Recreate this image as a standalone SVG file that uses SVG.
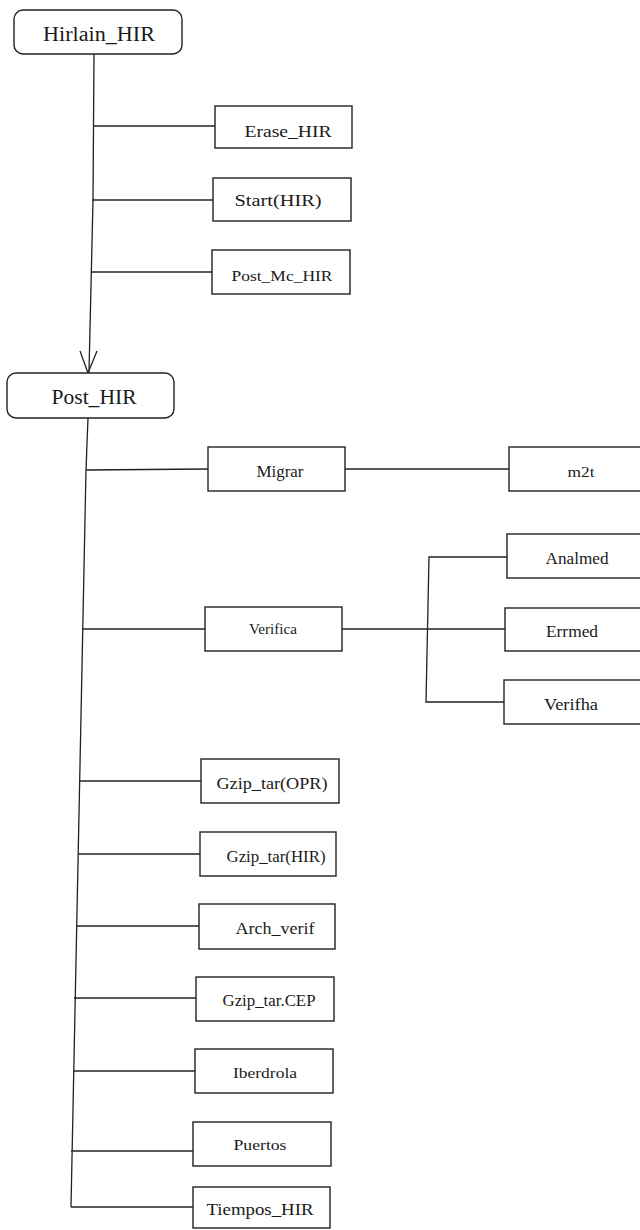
<svg xmlns="http://www.w3.org/2000/svg" width="640" height="1230" viewBox="0 0 640 1230">
<style>
.bg{fill:#fff}
.box{fill:#fff;stroke:#222;stroke-width:1.4}
.lbl{font-family:"Liberation Serif",serif;fill:#1a1a1a;text-anchor:middle}
.big{font-size:20px}
.mid{font-size:16px}
.sm{font-size:14px}
.ln{fill:none;stroke:#222;stroke-width:1.3}
</style>
<rect class="bg" x="0" y="0" width="640" height="1230"/>
<g id="connectors">
<polyline class="ln" points="94,54 93,200 89,372"/>
<polyline class="ln" points="80,351 88,373 97,351"/>
<line class="ln" x1="93" y1="126" x2="215" y2="126"/>
<line class="ln" x1="92" y1="200" x2="213" y2="200"/>
<line class="ln" x1="91" y1="272" x2="212" y2="272"/>
<polyline class="ln" points="88,418 86,470 71,1207"/>
<line class="ln" x1="86" y1="470" x2="208" y2="469"/>
<line class="ln" x1="345" y1="469" x2="509" y2="469"/>
<line class="ln" x1="82" y1="629" x2="205" y2="629"/>
<line class="ln" x1="342" y1="629" x2="505" y2="629"/>
<polyline class="ln" points="507,557 429,557 426,702 504,702"/>
<line class="ln" x1="79" y1="781" x2="201" y2="781"/>
<line class="ln" x1="78" y1="854" x2="200" y2="854"/>
<line class="ln" x1="77" y1="926" x2="199" y2="926"/>
<line class="ln" x1="74" y1="998" x2="196" y2="998"/>
<line class="ln" x1="73" y1="1071" x2="195" y2="1071"/>
<line class="ln" x1="71" y1="1151" x2="193" y2="1151"/>
<line class="ln" x1="71" y1="1207" x2="193" y2="1207"/>
</g>
<g id="n-hirlain"><rect class="box" x="14" y="10" width="168" height="44" rx="9"/><text class="lbl big" x="99" y="41" textLength="112" lengthAdjust="spacingAndGlyphs">Hirlain_HIR</text></g>
<g id="n-erase"><rect class="box" x="215" y="106" width="137" height="42"/><text class="lbl mid" x="288" y="137" textLength="87" lengthAdjust="spacingAndGlyphs">Erase_HIR</text></g>
<g id="n-start"><rect class="box" x="213" y="178" width="138" height="43"/><text class="lbl mid" x="278" y="206" textLength="87" lengthAdjust="spacingAndGlyphs">Start(HIR)</text></g>
<g id="n-postmc"><rect class="box" x="212" y="250" width="138" height="44"/><text class="lbl sm" x="282" y="281" textLength="101" lengthAdjust="spacingAndGlyphs">Post_Mc_HIR</text></g>
<g id="n-post"><rect class="box" x="7" y="373" width="167" height="45" rx="9"/><text class="lbl big" x="94" y="404" textLength="85" lengthAdjust="spacingAndGlyphs">Post_HIR</text></g>
<g id="n-migrar"><rect class="box" x="208" y="447" width="137" height="44"/><text class="lbl mid" x="280" y="477" textLength="47" lengthAdjust="spacingAndGlyphs">Migrar</text></g>
<g id="n-m2t"><rect class="box" x="509" y="447" width="140" height="44"/><text class="lbl sm" x="581" y="477" textLength="27" lengthAdjust="spacingAndGlyphs">m2t</text></g>
<g id="n-verifica"><rect class="box" x="205" y="607" width="137" height="44"/><text class="lbl sm" x="273" y="634" textLength="48" lengthAdjust="spacingAndGlyphs">Verifica</text></g>
<g id="n-analmed"><rect class="box" x="507" y="534" width="140" height="44"/><text class="lbl mid" x="577" y="564" textLength="63" lengthAdjust="spacingAndGlyphs">Analmed</text></g>
<g id="n-errmed"><rect class="box" x="505" y="608" width="142" height="43"/><text class="lbl mid" x="572" y="637" textLength="52" lengthAdjust="spacingAndGlyphs">Errmed</text></g>
<g id="n-verifha"><rect class="box" x="504" y="680" width="143" height="44"/><text class="lbl mid" x="571" y="710" textLength="54" lengthAdjust="spacingAndGlyphs">Verifha</text></g>
<g id="n-gzipopr"><rect class="box" x="201" y="759" width="138" height="44"/><text class="lbl mid" x="272" y="789" textLength="111" lengthAdjust="spacingAndGlyphs">Gzip_tar(OPR)</text></g>
<g id="n-gziphir"><rect class="box" x="200" y="832" width="136" height="44"/><text class="lbl mid" x="276" y="862" textLength="99" lengthAdjust="spacingAndGlyphs">Gzip_tar(HIR)</text></g>
<g id="n-arch"><rect class="box" x="199" y="904" width="136" height="45"/><text class="lbl mid" x="275" y="934" textLength="79" lengthAdjust="spacingAndGlyphs">Arch_verif</text></g>
<g id="n-gzipcep"><rect class="box" x="196" y="977" width="138" height="44"/><text class="lbl mid" x="269" y="1006" textLength="93" lengthAdjust="spacingAndGlyphs">Gzip_tar.CEP</text></g>
<g id="n-iberdrola"><rect class="box" x="195" y="1049" width="138" height="44"/><text class="lbl sm" x="265" y="1078" textLength="64" lengthAdjust="spacingAndGlyphs">Iberdrola</text></g>
<g id="n-puertos"><rect class="box" x="193" y="1122" width="138" height="44"/><text class="lbl sm" x="260" y="1150" textLength="53" lengthAdjust="spacingAndGlyphs">Puertos</text></g>
<g id="n-tiempos"><rect class="box" x="193" y="1187" width="137" height="41"/><text class="lbl mid" x="260" y="1215" textLength="107" lengthAdjust="spacingAndGlyphs">Tiempos_HIR</text></g>
</svg>
